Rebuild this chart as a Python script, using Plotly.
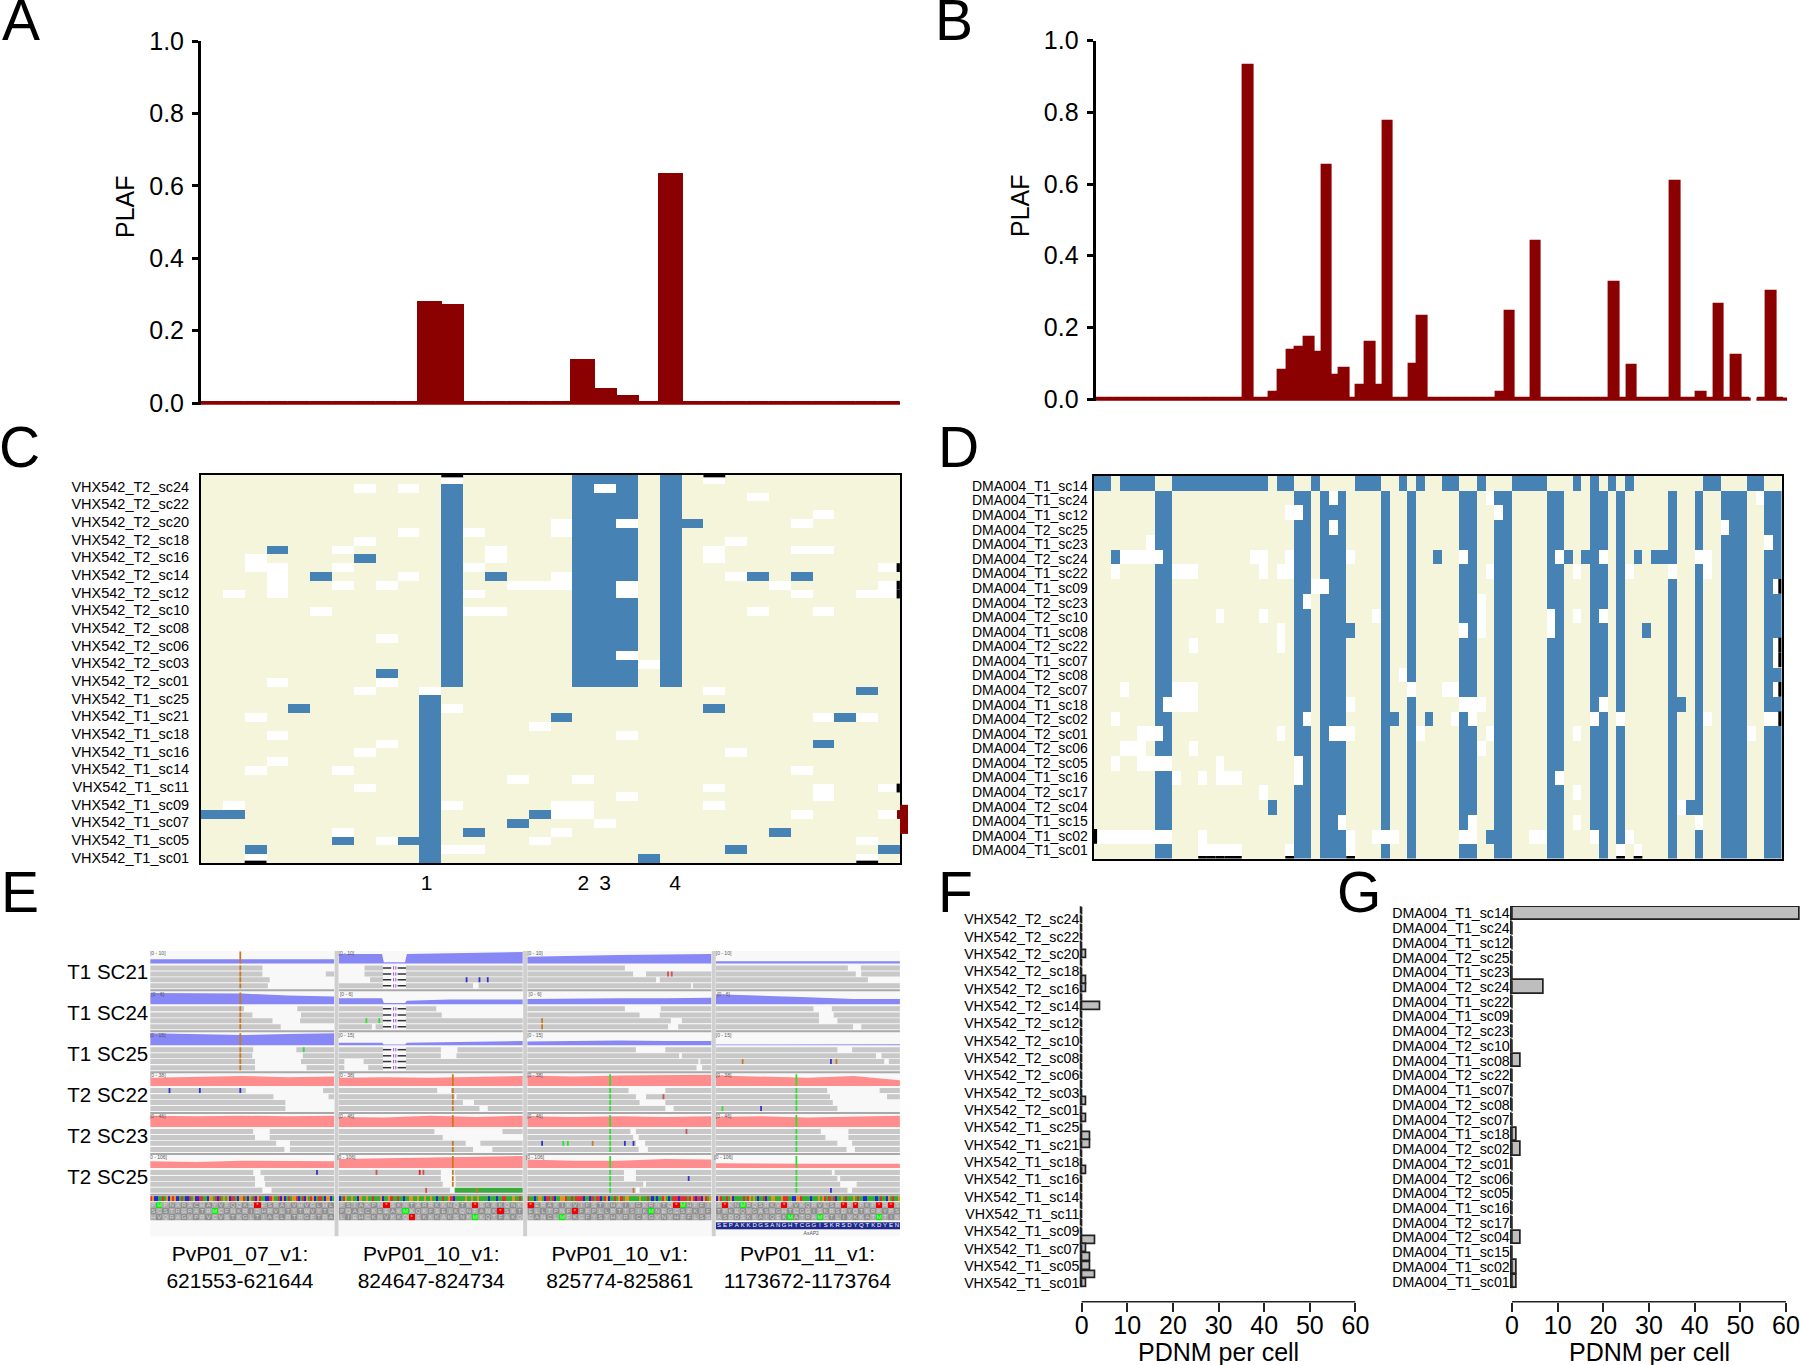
import numpy as np
import plotly.graph_objects as go

FONT = "Liberation Sans"
DARK_RED = "#8B0000"
BEIGE = "#F5F5DC"
BLUE = "#4682B4"

# panel A and B: one PLAF value per SNP column
A_PLAF = [0, 0, 0, 0, 0, 0, 0, 0, 0, 0,
          .275, .268, 0, 0, 0, 0, 0, .117, .037, .017,
          0, .63, 0, 0, 0, 0, 0, 0, 0, 0,
          0, 0]
B_PLAF = [0, 0, 0, 0, 0, 0, 0, 0, 0, 0,
          0, 0, 0, 0, 0, 0, 0, .93, 0, 0,
          .018, .078, .135, .142, .17, .128, .65, .065, .085, 0,
          .037, .157, .037, .775, 0, 0, .095, .23, 0, 0,
          0, 0, 0, 0, 0, 0, .018, .245, 0, 0,
          .44, 0, 0, 0, 0, 0, 0, 0, 0, .325,
          0, .092, 0, 0, 0, 0, .607, 0, 0, .018,
          0, .263, 0, .12, 0, None, 0, .30, 0]
PLAF_TICKS = [0, .2, .4, .6, .8, 1]

# panel C: 44 cells by 32 SNPs
C_LABELS = ["VHX542_T2_sc24", "VHX542_T2_sc22", "VHX542_T2_sc20", "VHX542_T2_sc18", "VHX542_T2_sc16",
            "VHX542_T2_sc14", "VHX542_T2_sc12", "VHX542_T2_sc10", "VHX542_T2_sc08", "VHX542_T2_sc06",
            "VHX542_T2_sc03", "VHX542_T2_sc01", "VHX542_T1_sc25", "VHX542_T1_sc21", "VHX542_T1_sc18",
            "VHX542_T1_sc16", "VHX542_T1_sc14", "VHX542_T1_sc11", "VHX542_T1_sc09", "VHX542_T1_sc07",
            "VHX542_T1_sc05", "VHX542_T1_sc01"]
C_BLUE_SPANS = [(11, 1, 23), (17, 0, 23), (18, 0, 23), (19, 0, 23), (21, 0, 23), (10, 25, 43)]
C_BLUE = {5: [22], 8: [3], 9: [7], 11: [5, 13, 25, 27], 22: [8], 24: [30], 26: [4, 23], 27: [16, 29],
          30: [28], 38: [0, 1, 15], 39: [14], 40: [12, 26], 41: [6, 9], 42: [2, 24, 31], 43: [20]}
C_WHITE = {0: [11, 23], 1: [7, 9, 18], 2: [25], 4: [28], 5: [16, 19, 27], 6: [9, 12, 16], 7: [7, 24],
           8: [6, 13, 23, 27, 28], 9: [2, 13, 23], 10: [2, 3, 6, 12, 31], 11: [3, 9, 16, 24],
           12: [3, 6, 8, 14, 15, 16, 19, 26, 31], 13: [1, 3, 12, 19, 27, 30, 31], 15: [5, 12, 13, 25, 28],
           18: [8], 20: [19], 21: [20], 23: [3, 8], 24: [7, 10, 23], 26: [11], 27: [2, 28, 30], 28: [15],
           29: [3, 19], 30: [8], 31: [7, 24], 32: [3], 33: [2, 6, 27], 34: [14, 17], 35: [7, 23, 28, 31],
           36: [19, 28], 37: [1, 11, 16, 17, 23], 38: [16, 17, 27, 31], 39: [18], 40: [6, 16],
           41: [8, 15, 30], 42: [11, 12], 43: [2, 30]}
C_EDGE_TOP = [11, 23]
C_EDGE_BOTTOM = [2, 30]
C_EDGE_RIGHT = [10, 12, 13, 35]
C_OVERFLOW_ROWS = [36.9, 40.2]
C_OVERFLOW_INNER_ROWS = [37.5, 38.5]
C_SNV_POS = [9.83, 17, 18, 21.2]
C_SNV_TEXT = ["1", "2", "3", "4"]

# panel D: 26 cells by 79 SNPs
D_LABELS = ["DMA004_T1_sc14", "DMA004_T1_sc24", "DMA004_T1_sc12", "DMA004_T2_sc25", "DMA004_T1_sc23",
            "DMA004_T2_sc24", "DMA004_T1_sc22", "DMA004_T1_sc09", "DMA004_T2_sc23", "DMA004_T2_sc10",
            "DMA004_T1_sc08", "DMA004_T2_sc22", "DMA004_T1_sc07", "DMA004_T2_sc08", "DMA004_T2_sc07",
            "DMA004_T1_sc18", "DMA004_T2_sc02", "DMA004_T2_sc01", "DMA004_T2_sc06", "DMA004_T2_sc05",
            "DMA004_T1_sc16", "DMA004_T2_sc17", "DMA004_T2_sc04", "DMA004_T1_sc15", "DMA004_T1_sc02",
            "DMA004_T1_sc01"]
D_ROW0_BLUE = [0, 1, 3, 4, 5, 6, 9, 10, 11, 12, 13, 14, 15, 16, 17, 18, 19, 21, 22, 25, 30, 31, 32, 35, 37,
               40, 41, 44, 48, 49, 50, 51, 55, 57, 59, 61, 70, 71, 75, 76]
D_BLUE_COLS = [7, 8, 23, 24, 26, 27, 28, 33, 36, 42, 43, 46, 47, 52, 53, 57, 58, 60, 66, 69, 72, 73, 74, 77, 78]
D_BLUE = {5: [2, 39, 54, 56, 62, 64, 65], 10: [29, 63], 15: [67], 16: [34, 38], 22: [20, 68], 24: [45]}
D_WHITE = {1: [27, 45, 76], 2: [22, 23, 46], 3: [27, 72], 4: [6, 77],
           5: [3, 4, 5, 6, 7, 18, 19, 22, 29, 42, 53, 58, 69, 70],
           6: [2, 9, 10, 11, 19, 21, 22, 45, 55, 61, 66, 70], 7: [25, 26, 78], 8: [24, 44],
           9: [14, 19, 32, 44, 52, 55, 58], 10: [21, 42, 44, 52], 11: [11, 21, 78], 12: [78], 13: [35],
           14: [3, 9, 10, 11, 36, 40, 41, 78], 15: [8, 9, 10, 11, 29, 42, 43, 44, 58],
           16: [2, 24, 41, 43, 57, 60, 70, 77, 78], 17: [5, 6, 7, 21, 27, 28, 29, 37, 45, 55, 75],
           18: [3, 4, 5, 11, 44], 19: [2, 5, 6, 7, 8, 14, 23], 20: [9, 12, 14, 15, 16, 23, 53], 21: [19, 55],
           22: [67], 23: [28, 43, 55, 69],
           24: [0, 1, 2, 3, 4, 5, 6, 7, 8, 12, 29, 32, 33, 34, 42, 43, 50, 51, 57, 61],
           25: [12, 13, 14, 15, 16, 22, 29, 60, 62]}
D_BEIGE = {25: [57]}
D_EDGE_BOTTOM = [12, 13, 14, 15, 16, 22, 29, 60, 62]
D_EDGE_RIGHT = [7, 11, 12, 14, 16]
D_EDGE_LEFT = [24]

# panel F and G: PDNM per cell
F_PDNM = [0, 0, 0, 0, 0, 1, 0, 0, 1, 1, 0, 4, 0, 0, 0, 0, 0, 0, 0, 0, 0, 0,
          1, 0, 1, 0, 2, 2, 0, 0, 1, 0, 0, 0, 0, 0, 0, 0, 3, 1, 2, 2, 3, 1]
G_PDNM = [63, 0, 0, 0, 0, 7, 0, 0, 0, 0, 2, 0, 0, 0, 0, 1, 2, 0, 0, 0, 0, 0, 2, 0, 1, 1]
PDNM_TICKS = [0, 10, 20, 30, 40, 50, 60]

# panel E: IGV view, 6 cells by 4 loci
E_ROW_LABELS = ["T1 SC21", "T1 SC24", "T1 SC25", "T2 SC22", "T2 SC23", "T2 SC25"]
E_LOCI = ["PvP01_07_v1:<br>621553-621644", "PvP01_10_v1:<br>824647-824734",
          "PvP01_10_v1:<br>825774-825861", "PvP01_11_v1:<br>1173672-1173764"]
E_RANGES = ["[0 - 10]", "[0 - 6]", "[0 - 15]", "[0 - 38]", "[0 - 46]", "[0 - 106]"]
E_COV_F = [0, .25, .5, .75, 1]
E_COV_NOTCH_F = [0, .235, .245, .36, .37, .6, .8, 1]
E_COVERAGE = [
    [[.35, .35, .38, .35, .35], [.8, .8, .1, .1, .8, .85, .95, .95], [.55, .65, .7, .75, .8], [.18, .18, .2, .2, .18]],
    [[.95, .95, .9, .75, .65], [.5, .5, .1, .1, .3, .4, .4, .4], [.45, .5, .5, .5, .55], [.85, .75, .6, .45, .45]],
    [[1, .95, .85, .95, 1], [.2, .2, .05, .05, .2, .25, .3, .35], [.3, .35, .4, .35, .35], [.05, .05, .07, .08, .08]],
    [[.7, .75, .85, .75, .8], [.7, .75, .7, .75, .85], [.9, .8, .9, .9, .95], [.9, .8, .7, .85, .5]],
    [[.95, .9, .95, .9, .95], [.85, .8, .95, .85, .95], [.9, .85, .9, .85, .9], [.85, .9, .8, .9, .95]],
    [[.55, .5, .6, .6, .55], [.75, .8, .9, .95, 1], [.7, .6, .6, .75, .7], [.4, .35, .35, .35, .35]],
]
E_READS = [
    [[[(0, .61)], [(0, .61), (.955, 1)], [(0, .65)], [(0, .64)]],
     [[(.14, .24), (.365, 1)], [(.14, .24), (.365, 1)], [(.17, .24), (.365, 1)], [(0, .24), (.365, .73), (.76, 1)]],
     [[(0, .53)], [(0, .575), (.645, 1)], [(0, .70), (.72, 1)], [(0, .89), (.90, 1)]],
     [[(0, .717), (.788, 1)], [(0, .76), (.79, 1)], [(0, .826)], [(0, 1)]]],
    [[[(0, .51), (.80, 1)], [(0, .556), (.82, 1)], [(0, .665), (.815, 1)], [(0, .71)]],
     [[(0, .24), (.365, .53)], [(0, .24), (.365, .56)], [(0, .24), (.365, 1)], [(0, .18), (.20, .24), (.365, 1)]],
     [[(0, .53), (.725, 1)], [(0, .61), (.72, 1)], [(0, .78), (.84, 1)], [(0, .765), (.82, 1)]],
     [[(0, .53), (.63, 1)], [(0, .56), (.64, 1)], [(0, .56), (.66, 1)], [(0, .745), (.79, 1)]]],
    [[[(0, .56), (.795, 1)], [(0, .555), (.83, 1)], [(0, .57), (.82, 1)], [(0, .57), (.85, 1)]],
     [[(0, .24), (.365, .555), (.645, 1)], [(0, .24), (.365, .555), (.64, 1)], [(0, .03), (.135, .24), (.365, 1)], [(0, .03), (.16, .24), (.365, 1)]],
     [[(0, .59), (.75, 1)], [(0, .825), (.84, 1)], [(0, .93), (.94, 1)], [(0, .92), (.95, 1)]],
     [[(0, .66), (.74, 1)], [(0, .87), (.90, 1)], [(0, .915), (.94, 1)], [(0, 1)]]],
    [[[(0, .52), (.94, 1)], [(0, .67), (.97, 1)], [(0, .735)], [(0, .735)]],
     [[(0, .535), (.61, 1)], [(0, .63), (.64, 1)], [(0, .675), (.735, 1)], [(0, .765), (.81, 1)]],
     [[(0, .55), (.75, 1)], [(0, .59), (.645, 1)], [(0, .61), (.75, 1)], [(0, .75), (.795, 1)]],
     [[(0, .605), (.89, 1)], [(0, .62), (.93, 1)], [(0, .635)], [(0, .66)]]],
    [[[(0, .56), (.65, 1)], [(0, .57), (.65, 1)], [(0, .685), (.76, 1)], [(0, .73), (.76, 1)]],
     [[(0, .52), (.89, 1)], [(0, .565)], [(0, .69), (.77, 1)], [(0, .73), (.835, 1)]],
     [[(0, .56), (.59, 1)], [(0, .575), (.605, 1)], [(0, .59), (.64, 1)], [(0, .605), (.655, 1)]],
     [[(0, .57), (.72, 1)], [(0, .595), (.72, 1)], [(0, .66), (.74, 1)], [(0, .71), (.755, 1)]]],
    [[[(0, .56), (.60, 1)], [(0, .57), (.62, 1)], [(0, .57), (.625, 1)], [(0, .61), (.66, 1)]],
     [[(0, .555), (.63, 1)], [(0, .555), (.635, 1)], [(0, .565), (.635, 1)], [(0, .605)]],
     [[(0, .525), (.59, 1)], [(0, .525), (.59, 1)], [(0, .63), (.645, 1)], [(0, .59), (.61, 1)]],
     [[(0, .63), (.645, 1)], [(0, .66), (.675, 1)], [(0, .675), (.765, 1)], [(0, .715), (.74, 1)]]],
]
E_GREEN_READ = (5, 1, 3, .63, 1)
E_ORANGE = "#C87A20"
E_GREEN = "#30E030"
E_VBLUE = "#3030D0"
E_RED = "#D05050"
# row, locus, position in the window, colour, parts (0 is the coverage track, 1-4 the read lanes)
E_SNV = [(0, 0, .49, E_ORANGE, [0, 1, 2, 3, 4]), (1, 0, .49, E_ORANGE, [0, 1, 2, 3, 4]), (2, 0, .49, E_ORANGE, [0, 1, 2, 3, 4]),
         (0, 1, .695, E_VBLUE, [3]), (0, 1, .765, E_VBLUE, [3]), (0, 1, .81, E_VBLUE, [3]),
         (0, 2, .765, E_RED, [2]), (0, 2, .785, E_RED, [2]),
         (1, 1, .15, E_GREEN, [3]), (1, 1, .22, E_GREEN, [3]), (1, 2, .08, E_ORANGE, [3, 4]),
         (2, 0, .835, E_GREEN, [1]), (2, 3, .145, E_ORANGE, [3]), (2, 3, .625, E_VBLUE, [3]), (2, 3, .655, E_ORANGE, [3]),
         (3, 0, .105, E_VBLUE, [1]), (3, 0, .27, E_VBLUE, [1]), (3, 0, .49, E_VBLUE, [1]),
         (3, 1, .62, E_ORANGE, [0, 1, 2, 3, 4]), (4, 1, .62, E_ORANGE, [0, 3, 4]), (5, 1, .62, E_ORANGE, [0, 1, 2, 3]),
         (3, 2, .45, E_GREEN, [0, 1, 2, 3, 4]), (4, 2, .45, E_GREEN, [0, 1, 2, 3, 4]), (5, 2, .45, E_GREEN, [0, 1, 2, 3, 4]),
         (3, 3, .437, E_GREEN, [0, 1, 2, 3, 4]), (4, 3, .437, E_GREEN, [0, 1, 2, 3, 4]), (5, 3, .437, E_GREEN, [0, 1, 2, 3, 4]),
         (3, 2, .74, E_RED, [2]), (3, 3, .035, E_GREEN, [4]), (3, 3, .245, E_VBLUE, [4]),
         (4, 2, .865, E_RED, [1]), (4, 2, .08, E_VBLUE, [3]), (4, 2, .195, E_GREEN, [3]), (4, 2, .22, E_GREEN, [3]),
         (4, 2, .355, E_ORANGE, [3]), (4, 2, .53, E_VBLUE, [3]), (4, 2, .577, E_VBLUE, [3]),
         (5, 0, .907, E_VBLUE, [1]), (5, 1, .205, E_RED, [1]), (5, 1, .44, "#E02020", [1]), (5, 1, .46, E_RED, [1]),
         (5, 1, .475, E_RED, [4]), (5, 1, .75, E_ORANGE, [4]), (5, 2, .877, E_VBLUE, [2]), (5, 2, .577, E_ORANGE, [4]),
         (5, 3, .625, E_VBLUE, [4])]
E_LANE_Y = [.42, .57, .71, .86]
E_SEQ = ["TGCCAATAGCGTGCATACCTAGCCTTAACGGATCTAGAGCTTACGGTACGATCGTAACCTGAATCGCATAGGTCATCGATGCATTACGGCA",
         "CATGAAGAACGAAGAATAAAGCAAGTAATAACAAGGAAGAAGAAGAACAATAAGTCAAAAAGAAGAAGAAAACAAACAATTAAAGAATA",
         "TAACAGGACTTATCAAGGTAATATTTTCAACTATTCATGCAATAGTAGGAAAAAGAAATACACAATGACATTTCTTTATGTCTTCGTAG",
         "CGTAATAGCAAAAATATGAGACAATCAAGGAAAGTTTAACCGGTAAAACAAAGAGTATTATCAAGATAAAGATAACCAAAACCATAACGATAAG"]
E_AA = [["PMPNARACHAYVFQQKD*FSRAYVHVGLHL", "SCSTRGRATRMCFNKRIDHRVLTYTWVYTC", "HVQRAGVPRVCVSTKGLTIACLRTRGFTRA"],
        ["FSIAKPN*SKNTARRKKNQTK*SKKKQNK", "PQALCKEEAKMKQKFSEIKQNFANK*SKT", "LIEHCKNVKKQ*SKKKAKSNKMKQTFAKQ"],
        ["*ERAKIKVIFSTIHAIVGKRNTQ*MHFFI", "ELLTPNF*FFPLLRTTSIKMNEGCSFKIF", "GANCLMFKGFYSYHVRICKGVNVHFFLSS"],
        ["S*KNMRQSRKV*PVKQRVLSR*R*PKP*R*S", "TPKEQVGASNGHTCGGISKRSDYQTKRKYPS", "ASDDSKKAIQEKMATRAMGTLIVKKATMTIK"]]
E_GENE = "SEPAKKDGSANGHTCGGISKRSDYQTKDYEN"
E_GENE_NAME = "AsAP2"


def build_grid(n_rows, n_cols, blue_cells, white_cells):
    grid = [[0] * n_cols for _ in range(n_rows)]
    for row, cols in blue_cells.items():
        for col in cols:
            grid[row][col] = 1
    for row, cols in white_cells.items():
        for col in cols:
            grid[row][col] = 2
    return grid


def dom_x(left, right):
    return [left / 1800, right / 1800]


def dom_y(top, bottom):
    return [1 - bottom / 1365, 1 - top / 1365]


fig = go.Figure()
layout = {}
shapes = []
annotations = []

colorscale = [[0, BEIGE], [.333, BEIGE], [.333, BLUE], [.667, BLUE], [.667, "white"], [1, "white"]]


def edge_trace(xs, ys, xname, yname, color, width):
    fig.add_trace(go.Scatter(x=xs, y=ys, xaxis=xname, yaxis=yname, mode="lines", cliponaxis=False,
                             line=dict(color=color, width=width), hoverinfo="skip"))


def plaf_panel(values, xname, yname, left, right, top, bottom, xmax, title_x, title_y):
    fig.add_trace(go.Bar(x=list(range(len(values))), y=values, xaxis=xname, yaxis=yname, width=1,
                         marker=dict(color=DARK_RED, line=dict(color=DARK_RED, width=3)),
                         cliponaxis=False, hoverinfo="skip"))
    # baseline, broken where a column has no value
    xs, ys = [], []
    run_start = None
    ext = .5 if xmax == len(values) - .5 else .67
    for i, v in enumerate(values + [None]):
        if v is not None and run_start is None:
            run_start = i
        if v is None and run_start is not None:
            xs += [run_start - (.5 if run_start == 0 else ext), i - 1 + ext + (.2 if i == len(values) and ext > .5 else 0), None]
            ys += [0, 0, None]
            run_start = None
    edge_trace(xs, ys, xname, yname, DARK_RED, 3.3)
    layout["xaxis" + xname[1:]] = dict(domain=dom_x(left, right), range=[-.5, xmax], visible=False, anchor=yname)
    layout["yaxis" + yname[1:]] = dict(domain=dom_y(top, bottom), range=[-.006, 1], anchor=xname, tickvals=PLAF_TICKS,
                                       tickformat=".1f", ticks="outside", ticklen=6, tickwidth=3, tickcolor="black",
                                       showline=True, linecolor="black", linewidth=3, showgrid=False, zeroline=False,
                                       tickfont=dict(size=25), ticklabelstandoff=3)
    annotations.append(dict(text="PLAF", x=title_x / 1800, y=1 - title_y / 1365, xref="paper", yref="paper",
                            xanchor="center", yanchor="middle", textangle=-90, showarrow=False, font=dict(size=25)))


def cell_panel(grid, xname, yname, left, right, top, bottom, labels, label_pos, size, standoff, xticks=None):
    fig.add_trace(go.Heatmap(z=grid, xaxis=xname, yaxis=yname, colorscale=colorscale, zmin=0, zmax=2,
                             showscale=False, hoverinfo="skip"))
    xaxis = dict(domain=dom_x(left, right), range=[-.5, len(grid[0]) - .5], anchor=yname, mirror=True, showline=True,
                 linecolor="black", linewidth=2, showgrid=False, zeroline=False, ticks="", showticklabels=False)
    if xticks:
        xaxis.update(tickvals=xticks[0], ticktext=xticks[1], showticklabels=True, tickfont=dict(size=21),
                     ticklabelstandoff=0)
    layout["xaxis" + xname[1:]] = xaxis
    layout["yaxis" + yname[1:]] = dict(domain=dom_y(top, bottom), range=[len(grid) - .5, -.5], anchor=xname,
                                       mirror=True, showline=True, linecolor="black", linewidth=2, showgrid=False,
                                       zeroline=False, ticks="", tickvals=label_pos, ticktext=labels,
                                       tickfont=dict(size=size), ticklabelstandoff=standoff)


def pdnm_panel(values, xname, yname, zero_px, top, bottom, labels, label_pos, size, right_px, xmax):
    fig.add_trace(go.Bar(x=values, y=list(range(len(values))), orientation="h", xaxis=xname, yaxis=yname, width=.9,
                         marker=dict(color="#BEBEBE", line=dict(color="#222222", width=1.7)),
                         cliponaxis=False, hoverinfo="skip"))
    xs, ys = [], []
    for i, v in enumerate(values):
        xs += [0, 0, None]
        ys += [i - .45, i + .45, None]
    edge_trace(xs, ys, xname, yname, "#222222", 1.5)
    px_per_unit = 274 / 60
    layout["xaxis" + xname[1:]] = dict(domain=dom_x(zero_px - .5 * px_per_unit, right_px), range=[-.5, xmax], anchor="free",
                                       position=1 - 1301.7 / 1365, tickvals=PDNM_TICKS, ticks="outside", ticklen=9,
                                       tickwidth=1.5, tickcolor="#222222", showline=False, showgrid=False,
                                       zeroline=False, tickfont=dict(size=25), ticklabelstandoff=-8)
    layout["yaxis" + yname[1:]] = dict(domain=dom_y(top, bottom), range=[len(values) - .5, -.5], anchor=xname,
                                       showline=False, showgrid=False, zeroline=False, ticks="", tickvals=label_pos,
                                       ticktext=labels, tickfont=dict(size=size), ticklabelstandoff=-1)
    # the axis line stops at 60 even where a bar runs past it
    shapes.append(dict(type="line", xref=xname, yref="paper", x0=0, x1=60, y0=1 - 1301.7 / 1365, y1=1 - 1301.7 / 1365,
                       line=dict(color="#222222", width=1.5)))
    annotations.append(dict(text="PDNM per cell", x=(zero_px + 137) / 1800, y=1 - 1352 / 1365, xref="paper", yref="paper",
                            xanchor="center", yanchor="middle", showarrow=False, font=dict(size=25)))


# panels A and B
plaf_panel(A_PLAF, "x", "y", 201, 900, 41, 405.2, 31.5, 125, 207)
plaf_panel(B_PLAF, "x2", "y2", 1095.6, 1787.3, 40.7, 401.2, 78.87, 1020, 206)

# panel C
c_blue = {r: list(cols) for r, cols in C_BLUE.items()}
for col, first, last in C_BLUE_SPANS:
    for r in range(first, last + 1):
        c_blue.setdefault(r, []).append(col)
c_grid = build_grid(44, 32, c_blue, C_WHITE)
cell_panel(c_grid, "x3", "y3", 201, 900, 475, 863, C_LABELS, [.82 + 2.003 * i for i in range(len(C_LABELS))], 14.5, 7,
           xticks=(C_SNV_POS, C_SNV_TEXT))
xs, ys = [], []
for col in C_EDGE_TOP:
    xs += [col - .5, col + .5, None]
    ys += [-.42, -.42, None]
for col in C_EDGE_BOTTOM:
    xs += [col - .5, col + .5, None]
    ys += [43.42, 43.42, None]
for row in C_EDGE_RIGHT:
    xs += [31.42, 31.42, None]
    ys += [row - .5, row + .5, None]
edge_trace(xs, ys, "x3", "y3", "black", 3.3)
# the red overflow past the right edge sits on its own narrow axis with the same rows
edge_trace([7, 7], C_OVERFLOW_ROWS, "x8", "y8", DARK_RED, 8)
edge_trace([1.5, 1.5], C_OVERFLOW_INNER_ROWS, "x8", "y8", DARK_RED, 4)
layout["xaxis8"] = dict(domain=dom_x(897, 908), range=[0, 11], anchor="y8", visible=False)
layout["yaxis8"] = dict(domain=dom_y(475, 863), range=[43.5, -.5], anchor="x8", visible=False)

# panel D
d_blue = {r: list(cols) for r, cols in D_BLUE.items()}
d_blue.setdefault(0, []).extend(D_ROW0_BLUE)
for r in range(1, 26):
    d_blue.setdefault(r, []).extend(D_BLUE_COLS)
d_grid = build_grid(26, 79, d_blue, D_WHITE)
for r, cols in D_BEIGE.items():
    for col in cols:
        d_grid[r][col] = 0
cell_panel(d_grid, "x4", "y4", 1093.7, 1781.7, 476, 858.5, D_LABELS, [.18 + .991 * i for i in range(len(D_LABELS))], 14, 1)
xs, ys = [], []
for col in D_EDGE_BOTTOM:
    xs += [col - .5, col + .5, None]
    ys += [25.44, 25.44, None]
for row in D_EDGE_RIGHT:
    xs += [78.3, 78.3, None]
    ys += [row - .5, row + .5, None]
for row in D_EDGE_LEFT:
    xs += [-.3, -.3, None]
    ys += [row - .5, row + .5, None]
edge_trace(xs, ys, "x4", "y4", "black", 3.3)

# panel E, one unit of x is a locus and one unit of y is a cell
COL_W = .975
for c in range(4):
    shapes.append(dict(type="rect", xref="x5", yref="y5", x0=c, x1=c + COL_W, y0=0, y1=6.98, fillcolor="#F8F8F8",
                       line=dict(width=0), layer="below"))

for rows, bar_color, gap_color in (([0, 1, 2], "#6E6EF2", "#9494F8"), ([3, 4, 5], "#FF7070", "#FF9C9C")):
    xs, ys = [], []
    for r in rows:
        for c in range(4):
            heights = E_COVERAGE[r][c]
            fs = E_COV_NOTCH_F if len(heights) == 8 else E_COV_F
            xs += [c + f * COL_W for f in fs] + [c + COL_W, c, None]
            ys += [r + .31 - h * .29 for h in heights] + [r + .31, r + .31, None]
    fig.add_trace(go.Scatter(x=xs, y=ys, xaxis="x5", yaxis="y5", mode="lines", fill="toself", fillcolor=gap_color,
                             fillpattern=dict(shape="|", size=2, solidity=.7, fgcolor=bar_color, bgcolor=gap_color),
                             line=dict(width=0, color=bar_color), hoverinfo="skip"))

xs, ys = [], []
for r, row_reads in enumerate(E_READS):
    for c, lanes in enumerate(row_reads):
        for lane, segs in enumerate(lanes):
            for start, end in segs:
                xs += [c + start * COL_W, c + end * COL_W, None]
                ys += [r + E_LANE_Y[lane], r + E_LANE_Y[lane], None]
edge_trace(xs, ys, "x5", "y5", "#C8C8C8", 5)
r, c, lane, start, end = E_GREEN_READ
edge_trace([c + start * COL_W, c + end * COL_W], [r + E_LANE_Y[lane]] * 2, "x5", "y5", "#3CAA3C", 5)

# splice gap drawn in the second locus of the T1 cells
xs, ys = [], []
xp, yp = [], []
for r in range(3):
    for y in E_LANE_Y:
        for start, end in ((.24, .285), (.32, .365)):
            xs += [1 + start * COL_W, 1 + end * COL_W, None]
            ys += [r + y, r + y, None]
        for f in (.298, .31):
            xp += [1 + f * COL_W, 1 + f * COL_W, None]
            yp += [r + y - .04, r + y + .04, None]
edge_trace(xs, ys, "x5", "y5", "#333333", 1.5)
edge_trace(xp, yp, "x5", "y5", "#9A50E0", 1)

for color in (E_ORANGE, E_GREEN, E_VBLUE, E_RED, "#E02020"):
    xs, ys = [], []
    for r, c, f, mark_color, parts in E_SNV:
        if mark_color != color:
            continue
        for part in parts:
            x = c + f * COL_W
            if part == 0:
                y0, y1 = r + .02, r + .31
            else:
                y0, y1 = r + E_LANE_Y[part - 1] - .06, r + E_LANE_Y[part - 1] + .06
            xs += [x, x, None]
            ys += [y0, y1, None]
    edge_trace(xs, ys, "x5", "y5", color, 1.8)

# row rules and locus separators
for r in range(1, 7):
    xs, ys = [], []
    for c in range(4):
        xs += [c, c + COL_W, None]
        ys += [r - .03, r - .03, None]
    edge_trace(xs, ys, "x5", "y5", "#A8A8A8", 2)
for c in range(1, 4):
    edge_trace([c - .012, c - .012], [0, 6.98], "x5", "y5", "#CFCFCF", 4)

# reference strip: bases, three reading frames and the gene track
base_code = {"A": 0, "C": 1, "G": 2, "T": 3}
base_scale = [[0, "#2FB02F"], [.25, "#2FB02F"], [.25, "#2525E0"], [.5, "#2525E0"],
              [.5, "#E59020"], [.75, "#E59020"], [.75, "#E03030"], [1, "#E03030"]]
aa_scale = [[0, "#A8A8A8"], [.25, "#A8A8A8"], [.25, "#909090"], [.5, "#909090"],
            [.5, "#00F000"], [.75, "#00F000"], [.75, "#F00000"], [1, "#F00000"]]
tx, ty, tt = [], [], []
for c in range(4):
    seq = E_SEQ[c]
    fig.add_trace(go.Heatmap(z=[[base_code[b] for b in seq]], x=np.linspace(c, c + COL_W, len(seq) + 1).tolist(),
                             y=[6.0, 6.13], xaxis="x5", yaxis="y5", colorscale=base_scale, zmin=0, zmax=3,
                             showscale=False, hoverinfo="skip"))
    frames = E_AA[c]
    n_aa = len(frames[0])
    z = []
    for i, frame in enumerate(frames):
        z.append([2 if a == "M" else 3 if a == "*" else (j + i) % 2 for j, a in enumerate(frame)])
        for j, a in enumerate(frame):
            tx.append(c + (j + .5) / n_aa * COL_W)
            ty.append(6.225 + .15 * i)
            tt.append(a)
    fig.add_trace(go.Heatmap(z=z, x=np.linspace(c, c + COL_W, n_aa + 1).tolist(), y=[6.15, 6.30, 6.45, 6.60],
                             xaxis="x5", yaxis="y5", colorscale=aa_scale, zmin=0, zmax=3, showscale=False,
                             hoverinfo="skip"))
fig.add_trace(go.Scatter(x=tx, y=ty, text=tt, xaxis="x5", yaxis="y5", mode="text",
                         textfont=dict(size=6, color="#DADADA"), hoverinfo="skip"))
n_gene = len(E_GENE)
fig.add_trace(go.Heatmap(z=[[0] * n_gene], x=np.linspace(3, 3 + COL_W, n_gene + 1).tolist(), y=[6.64, 6.80],
                         xaxis="x5", yaxis="y5", colorscale=[[0, "#1F2A8C"], [1, "#1F2A8C"]], showscale=False,
                         hoverinfo="skip"))
fig.add_trace(go.Scatter(x=[3 + (j + .5) / n_gene * COL_W for j in range(n_gene)], y=[6.72] * n_gene, text=list(E_GENE),
                         xaxis="x5", yaxis="y5", mode="text", textfont=dict(size=6, color="white"), hoverinfo="skip"))
fig.add_trace(go.Scatter(x=[3.505], y=[6.93], text=[E_GENE_NAME], xaxis="x5", yaxis="y5", mode="text",
                         textfont=dict(size=5, color="#555555"), hoverinfo="skip"))
fig.add_trace(go.Scatter(x=[c + .04 for r in range(6) for c in range(4)], y=[r + .07 for r in range(6) for c in range(4)],
                         text=[E_RANGES[r] for r in range(6) for c in range(4)], xaxis="x5", yaxis="y5", mode="text",
                         textfont=dict(size=5, color="#555555"), hoverinfo="skip"))

layout["xaxis5"] = dict(domain=dom_x(150.2, 904.6), range=[0, 4], anchor="y5", showline=False, showgrid=False,
                        zeroline=False, ticks="", tickvals=[.476, 1.49, 2.49, 3.485], ticktext=E_LOCI,
                        tickfont=dict(size=21), ticklabelstandoff=2)
layout["yaxis5"] = dict(domain=dom_y(950.7, 1237), range=[7, 0], anchor="x5", showline=False, showgrid=False,
                        zeroline=False, ticks="", tickvals=[.52, 1.516, 2.52, 3.52, 4.52, 5.52], ticktext=E_ROW_LABELS,
                        tickfont=dict(size=20.5), ticklabelstandoff=1)

# panels F and G
pdnm_panel(F_PDNM, "x6", "y6", 1081.6, 906.3, 1287.7, C_LABELS, [1 + 2 * i for i in range(len(C_LABELS))], 14.2, 1355.5, 60)
pdnm_panel(G_PDNM, "x7", "y7", 1512, 906, 1289, D_LABELS, list(range(len(D_LABELS))), 14.2, 1800, 63.07)

letters = [("A", 0, 20), ("B", 933, 20), ("C", -3, 447), ("D", 936, 447), ("E", -1, 892), ("F", 936, 892), ("G", 1335, 892)]
annotations += [dict(text=t, x=x / 1800, y=1 - y / 1365, xref="paper", yref="paper", xanchor="left", yanchor="middle",
                     showarrow=False, font=dict(size=57, color="black")) for t, x, y in letters]

fig.update_layout(width=1800, height=1365, margin=dict(l=0, r=0, t=0, b=0, autoexpand=False), showlegend=False,
                  autosize=False, paper_bgcolor="white", plot_bgcolor="rgba(0,0,0,0)", bargap=0,
                  font=dict(family=FONT, color="black"), shapes=shapes, annotations=annotations, **layout)

fig.write_html("out.html", config=dict(displayModeBar=False),
               post_script="document.body.style.margin='0';document.body.style.overflow='hidden';")
